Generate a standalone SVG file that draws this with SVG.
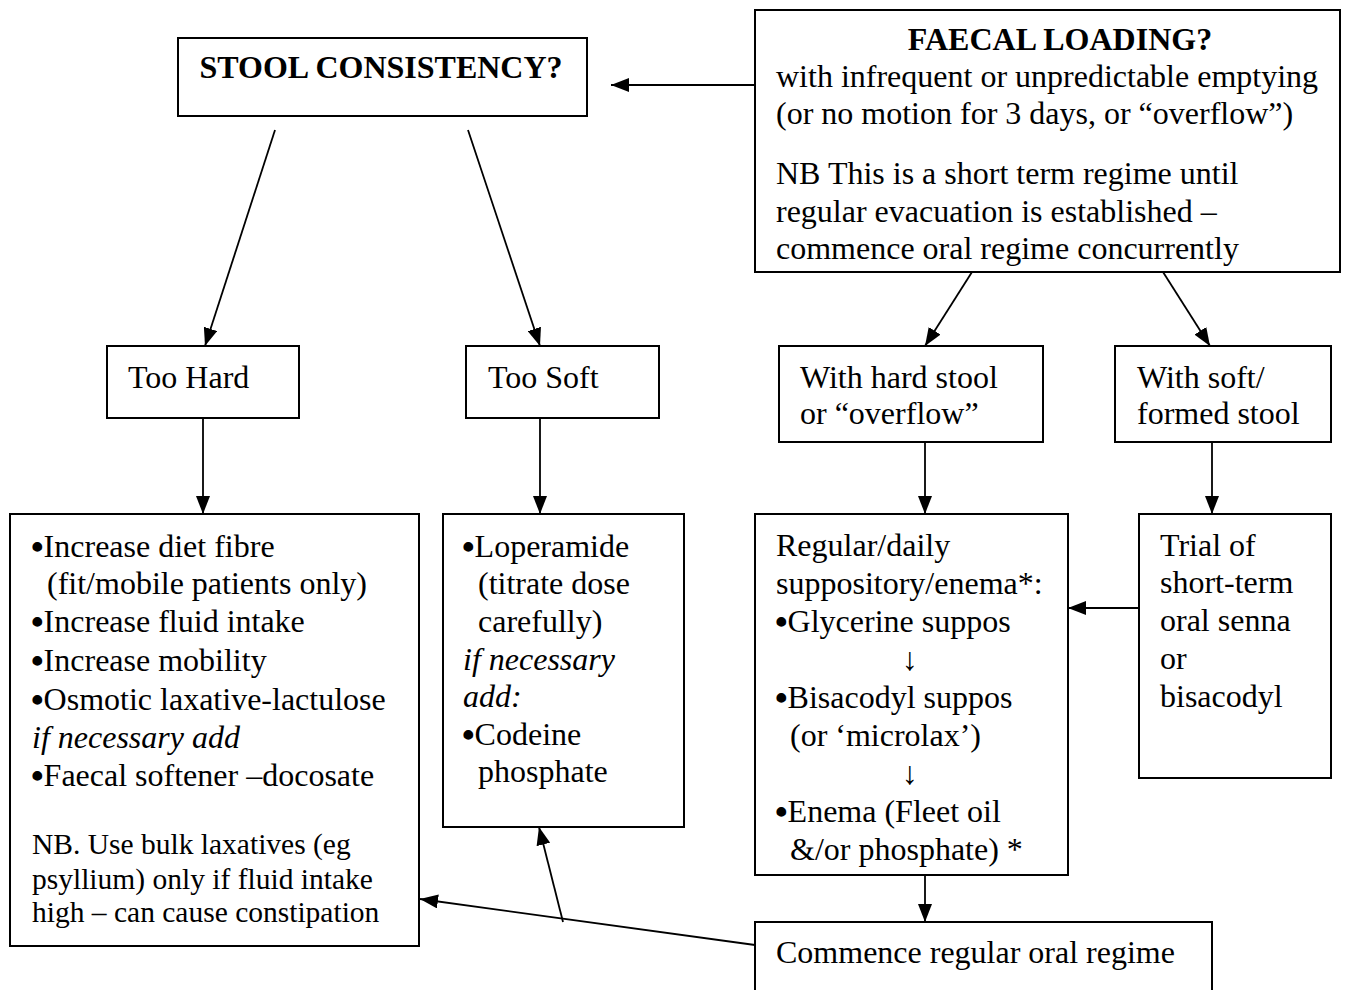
<svg xmlns="http://www.w3.org/2000/svg" width="1360" height="990" viewBox="0 0 1360 990">
<style>
  .box { fill: #ffffff; stroke: #000000; stroke-width: 2; }
  .t { font-family: "Liberation Serif", "Times New Roman", serif; font-size: 32px; fill: #000000; }
  .b { font-weight: bold; text-anchor: middle; }
  .i { font-style: italic; }
  .s { font-size: 29.5px; }
  .c { text-anchor: middle; }
  .bl { font-size: 36px; font-weight: bold; }
  .conn line { stroke: #000000; stroke-width: 1.8; marker-end: url(#ah); }
</style>
<defs>
  <marker id="ah" viewBox="0 0 18 14" refX="18" refY="7" markerWidth="18" markerHeight="14" markerUnits="userSpaceOnUse" orient="auto">
    <path d="M0,0 L18,7 L0,14 Z" fill="#000000"/>
  </marker>
</defs>
<rect x="0" y="0" width="1360" height="990" fill="#ffffff"/>

<g id="stool">
  <rect class="box" x="178" y="38" width="409" height="78"/>
  <text class="t b" x="381" y="78">STOOL CONSISTENCY?</text>
</g>

<g id="faecal">
  <rect class="box" x="755" y="10" width="585" height="262"/>
  <text class="t b" x="1060" y="50">FAECAL LOADING?</text>
  <text class="t" x="776" y="87">with infrequent or unpredictable emptying</text>
  <text class="t" x="776" y="124">(or no motion for 3 days, or “overflow”)</text>
  <text class="t" x="776" y="184">NB This is a short term regime until</text>
  <text class="t" x="776" y="222">regular evacuation is established –</text>
  <text class="t" x="776" y="259">commence oral regime concurrently</text>
</g>

<g id="toohard">
  <rect class="box" x="107" y="346" width="192" height="72"/>
  <text class="t" x="128" y="388">Too Hard</text>
</g>

<g id="toosoft">
  <rect class="box" x="466" y="346" width="193" height="72"/>
  <text class="t" x="488" y="388">Too Soft</text>
</g>

<g id="hardstool">
  <rect class="box" x="779" y="346" width="264" height="96"/>
  <text class="t" x="800" y="388">With hard stool</text>
  <text class="t" x="800" y="424">or “overflow”</text>
</g>

<g id="softstool">
  <rect class="box" x="1115" y="346" width="216" height="96"/>
  <text class="t" x="1137" y="388">With soft/</text>
  <text class="t" x="1137" y="424">formed stool</text>
</g>

<g id="hardtreat">
  <rect class="box" x="10" y="514" width="409" height="432"/>
  <text class="t" x="31" y="557"><tspan class="bl" dy="2">•</tspan><tspan dy="-2">Increase diet fibre</tspan></text>
  <text class="t" x="47" y="594">(fit/mobile patients only)</text>
  <text class="t" x="31" y="632"><tspan class="bl" dy="2">•</tspan><tspan dy="-2">Increase fluid intake</tspan></text>
  <text class="t" x="31" y="671"><tspan class="bl" dy="2">•</tspan><tspan dy="-2">Increase mobility</tspan></text>
  <text class="t" x="31" y="710"><tspan class="bl" dy="2">•</tspan><tspan dy="-2">Osmotic laxative-lactulose</tspan></text>
  <text class="t i" x="32" y="748">if necessary add</text>
  <text class="t" x="31" y="786"><tspan class="bl" dy="2">•</tspan><tspan dy="-2">Faecal softener –docosate</tspan></text>
  <text class="t s" x="32" y="854">NB. Use bulk laxatives (eg</text>
  <text class="t s" x="32" y="889">psyllium) only if fluid intake</text>
  <text class="t s" x="32" y="922">high – can cause constipation</text>
</g>

<g id="softtreat">
  <rect class="box" x="443" y="514" width="241" height="313"/>
  <text class="t" x="462" y="557"><tspan class="bl" dy="2">•</tspan><tspan dy="-2">Loperamide</tspan></text>
  <text class="t" x="478" y="594">(titrate dose</text>
  <text class="t" x="478" y="632">carefully)</text>
  <text class="t i" x="463" y="670">if necessary</text>
  <text class="t i" x="463" y="707">add:</text>
  <text class="t" x="462" y="745"><tspan class="bl" dy="2">•</tspan><tspan dy="-2">Codeine</tspan></text>
  <text class="t" x="478" y="782">phosphate</text>
</g>

<g id="suppository">
  <rect class="box" x="755" y="514" width="313" height="361"/>
  <text class="t" x="776" y="556">Regular/daily</text>
  <text class="t" x="776" y="594">suppository/enema*:</text>
  <text class="t" x="775" y="632"><tspan class="bl" dy="2">•</tspan><tspan dy="-2">Glycerine suppos</tspan></text>
  <text class="t c" x="910" y="670">↓</text>
  <text class="t" x="775" y="708"><tspan class="bl" dy="2">•</tspan><tspan dy="-2">Bisacodyl suppos</tspan></text>
  <text class="t" x="790" y="746">(or ‘microlax’)</text>
  <text class="t c" x="910" y="784">↓</text>
  <text class="t" x="775" y="822"><tspan class="bl" dy="2">•</tspan><tspan dy="-2">Enema (Fleet oil</tspan></text>
  <text class="t" x="790" y="860">&amp;/or phosphate) *</text>
</g>

<g id="trial">
  <rect class="box" x="1139" y="514" width="192" height="264"/>
  <text class="t" x="1160" y="556">Trial of</text>
  <text class="t" x="1160" y="593">short-term</text>
  <text class="t" x="1160" y="631">oral senna</text>
  <text class="t" x="1160" y="669">or</text>
  <text class="t" x="1160" y="707">bisacodyl</text>
</g>

<g id="commence">
  <rect class="box" x="755" y="922" width="457" height="90"/>
  <text class="t" x="776" y="963">Commence regular oral regime</text>
</g>

<g class="conn" id="connectors">
  <line x1="755" y1="85" x2="611" y2="85"/>
  <line x1="275" y1="130" x2="205" y2="346"/>
  <line x1="468" y1="130" x2="540" y2="346"/>
  <line x1="203" y1="418" x2="203" y2="514"/>
  <line x1="540" y1="418" x2="540" y2="514"/>
  <line x1="972" y1="272" x2="925" y2="346"/>
  <line x1="1163" y1="272" x2="1210" y2="346"/>
  <line x1="925" y1="442" x2="925" y2="514"/>
  <line x1="1212" y1="442" x2="1212" y2="514"/>
  <line x1="1139" y1="608" x2="1068" y2="608"/>
  <line x1="925" y1="875" x2="925" y2="922"/>
  <line x1="755" y1="945" x2="420" y2="899"/>
  <line x1="563" y1="922" x2="539" y2="827"/>
</g>
</svg>
